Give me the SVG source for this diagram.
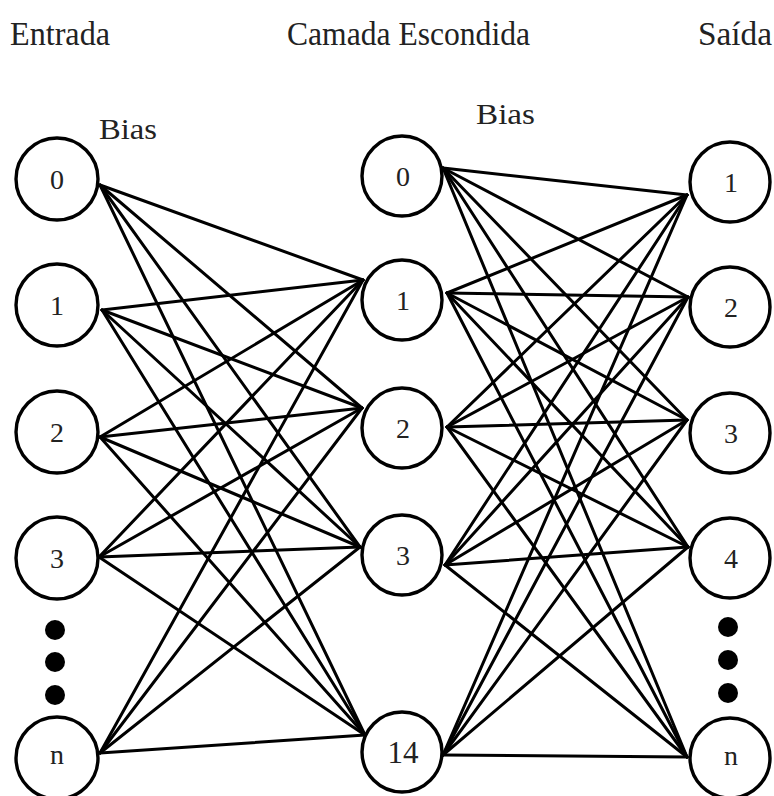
<svg xmlns="http://www.w3.org/2000/svg" width="774" height="796" viewBox="0 0 774 796">
<style>
.bg{fill:#ffffff}
.node circle{fill:#ffffff;stroke:#000000;stroke-width:3.4}
.lbl{font-family:"Liberation Serif","Times New Roman",serif;font-size:28px;fill:#222222;text-anchor:middle}
.head{font-family:"Liberation Serif","Times New Roman",serif;font-size:34px;fill:#222222}
.conn line{stroke:#000000;stroke-width:3;stroke-linecap:round}
.dot{fill:#000000}
</style>
<rect class="bg" x="0" y="0" width="774" height="796"/>
<g id="titles">
<text class="head" x="10" y="45" textLength="100" lengthAdjust="spacingAndGlyphs">Entrada</text>
<text class="head" x="287" y="45" textLength="243" lengthAdjust="spacingAndGlyphs">Camada Escondida</text>
<text class="head" x="698" y="45" textLength="74" lengthAdjust="spacingAndGlyphs">Saída</text>
<text class="head" x="99" y="139" style="font-size:29px" textLength="58" lengthAdjust="spacingAndGlyphs">Bias</text>
<text class="head" x="476" y="124" style="font-size:29px" textLength="59" lengthAdjust="spacingAndGlyphs">Bias</text>
</g>
<g id="connectors" class="conn">
<line x1="100" y1="185" x2="363" y2="280"/><line x1="100" y1="185" x2="362" y2="408"/><line x1="100" y1="185" x2="360" y2="547"/><line x1="100" y1="185" x2="365" y2="735"/>
<line x1="102" y1="310" x2="363" y2="280"/><line x1="102" y1="310" x2="362" y2="408"/><line x1="102" y1="310" x2="360" y2="547"/><line x1="102" y1="310" x2="365" y2="735"/>
<line x1="100" y1="437" x2="363" y2="280"/><line x1="100" y1="437" x2="362" y2="408"/><line x1="100" y1="437" x2="360" y2="547"/><line x1="100" y1="437" x2="365" y2="735"/>
<line x1="99" y1="557" x2="363" y2="280"/><line x1="99" y1="557" x2="362" y2="408"/><line x1="99" y1="557" x2="360" y2="547"/><line x1="99" y1="557" x2="365" y2="735"/>
<line x1="100" y1="753" x2="363" y2="280"/><line x1="100" y1="753" x2="362" y2="408"/><line x1="100" y1="753" x2="360" y2="547"/><line x1="100" y1="753" x2="365" y2="735"/>
<line x1="443" y1="168" x2="687" y2="195"/><line x1="443" y1="168" x2="688" y2="297"/><line x1="443" y1="168" x2="687" y2="420"/><line x1="443" y1="168" x2="688" y2="547"/><line x1="443" y1="168" x2="687" y2="757"/>
<line x1="447" y1="293" x2="687" y2="195"/><line x1="447" y1="293" x2="688" y2="297"/><line x1="447" y1="293" x2="687" y2="420"/><line x1="447" y1="293" x2="688" y2="547"/><line x1="447" y1="293" x2="687" y2="757"/>
<line x1="447" y1="427" x2="687" y2="195"/><line x1="447" y1="427" x2="688" y2="297"/><line x1="447" y1="427" x2="687" y2="420"/><line x1="447" y1="427" x2="688" y2="547"/><line x1="447" y1="427" x2="687" y2="757"/>
<line x1="445" y1="565" x2="687" y2="195"/><line x1="445" y1="565" x2="688" y2="297"/><line x1="445" y1="565" x2="687" y2="420"/><line x1="445" y1="565" x2="688" y2="547"/><line x1="445" y1="565" x2="687" y2="757"/>
<line x1="443" y1="755" x2="687" y2="195"/><line x1="443" y1="755" x2="688" y2="297"/><line x1="443" y1="755" x2="687" y2="420"/><line x1="443" y1="755" x2="688" y2="547"/><line x1="443" y1="755" x2="687" y2="757"/>
</g>
<g id="in0" class="node"><circle cx="57" cy="179" r="41"/><text class="lbl" x="57" y="189">0</text></g>
<g id="in1" class="node"><circle cx="57" cy="305" r="41"/><text class="lbl" x="57" y="315">1</text></g>
<g id="in2" class="node"><circle cx="57" cy="432" r="41"/><text class="lbl" x="57" y="442">2</text></g>
<g id="in3" class="node"><circle cx="57" cy="558" r="41"/><text class="lbl" x="57" y="568">3</text></g>
<g id="inn" class="node"><circle cx="57" cy="758" r="41"/><text class="lbl" x="57" y="764">n</text></g>
<g id="h0" class="node"><circle cx="402" cy="176" r="40"/><text class="lbl" x="403" y="186">0</text></g>
<g id="h1" class="node"><circle cx="402" cy="300" r="40"/><text class="lbl" x="403" y="310">1</text></g>
<g id="h2" class="node"><circle cx="402" cy="428" r="40"/><text class="lbl" x="403" y="438">2</text></g>
<g id="h3" class="node"><circle cx="402" cy="555" r="40"/><text class="lbl" x="403" y="565">3</text></g>
<g id="h14" class="node"><circle cx="402" cy="752" r="40"/><text class="lbl" x="403" y="763" style="font-size:31px">14</text></g>
<g id="o1" class="node"><circle cx="730" cy="182" r="40"/><text class="lbl" x="731" y="192">1</text></g>
<g id="o2" class="node"><circle cx="730" cy="307" r="40"/><text class="lbl" x="731" y="317">2</text></g>
<g id="o3" class="node"><circle cx="730" cy="433" r="40"/><text class="lbl" x="731" y="443">3</text></g>
<g id="o4" class="node"><circle cx="730" cy="558" r="40"/><text class="lbl" x="731" y="568">4</text></g>
<g id="on" class="node"><circle cx="730" cy="758" r="40"/><text class="lbl" x="731" y="765">n</text></g>
<g id="dots-in"><circle class="dot" cx="55" cy="630" r="10"/><circle class="dot" cx="55" cy="662" r="10"/><circle class="dot" cx="55" cy="695" r="10"/></g>
<g id="dots-out"><circle class="dot" cx="728" cy="627" r="10"/><circle class="dot" cx="728" cy="660" r="10"/><circle class="dot" cx="728" cy="693" r="10"/></g>
</svg>
